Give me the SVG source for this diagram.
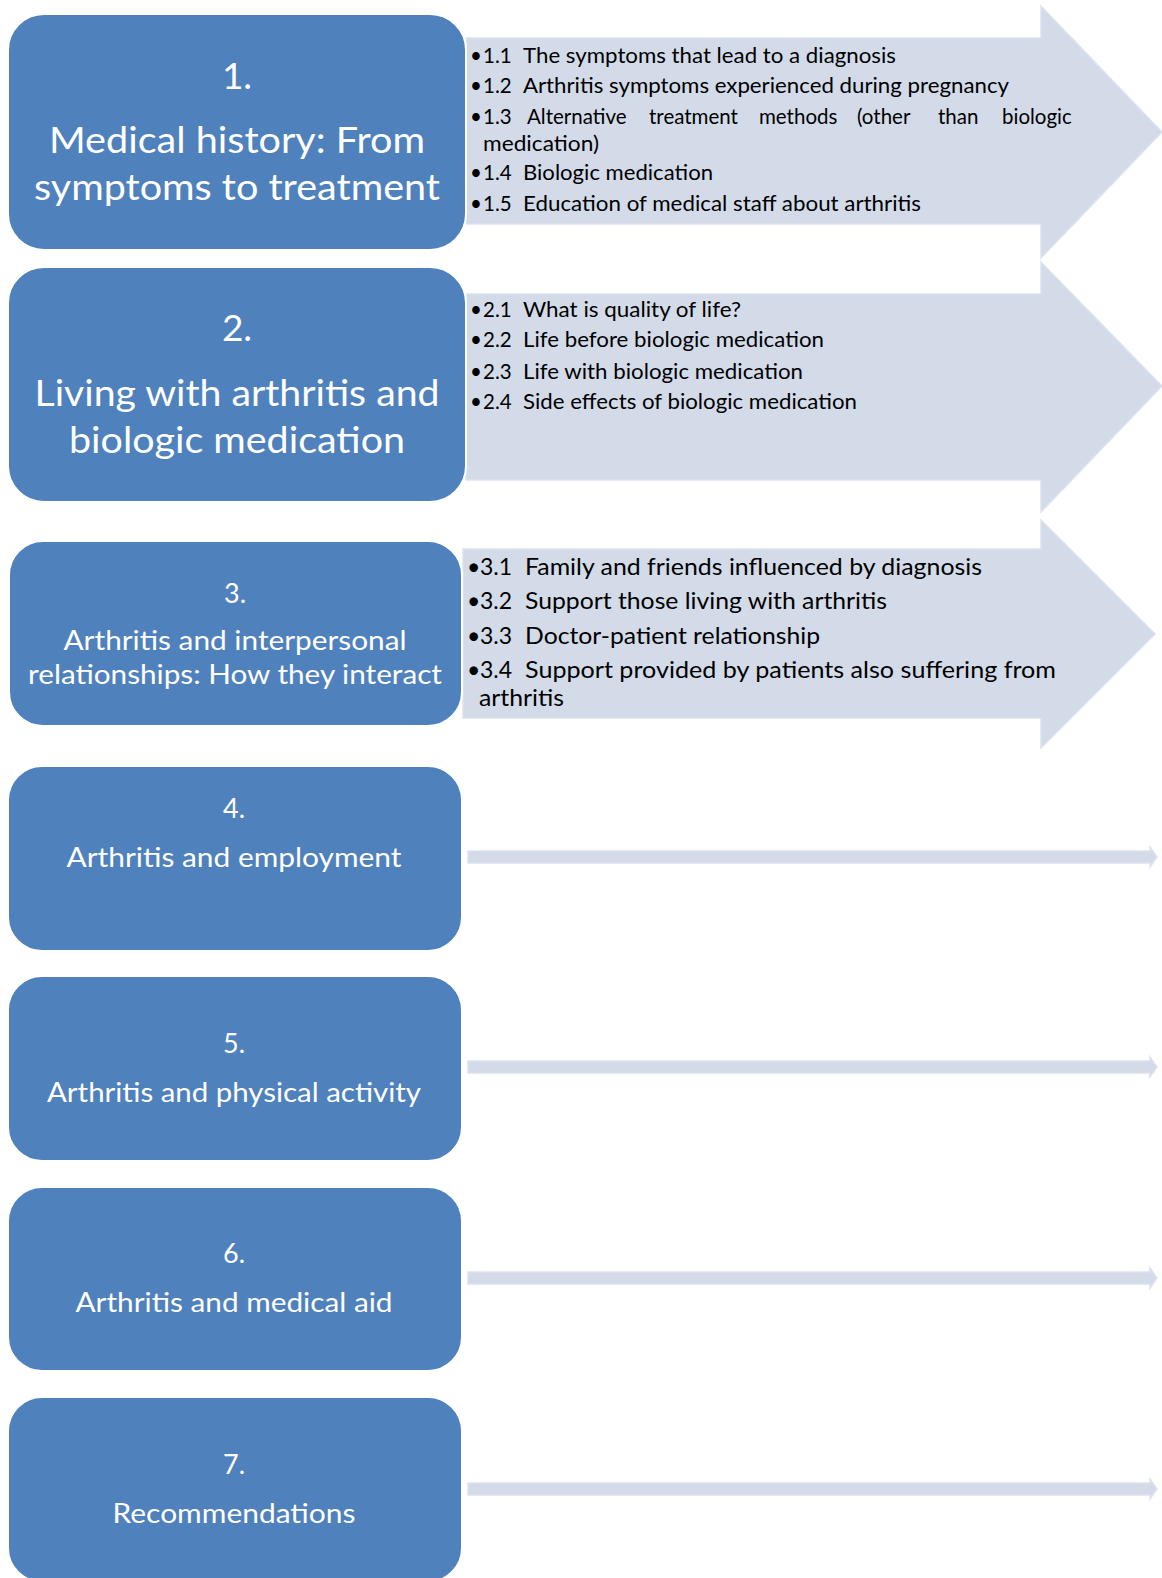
<svg xmlns="http://www.w3.org/2000/svg" width="1162" height="1578" viewBox="0 0 1162 1578">
<style>
.box{fill:#4F81BD;stroke:#FFFFFF;stroke-width:2}
.arr{fill:#D3DBE9;stroke:#DCE2EE;stroke-width:1.5}
.t{font-family:Lato,"Open Sans","Liberation Sans",sans-serif;fill:#FFFFFF;text-anchor:middle}
.b{font-family:Lato,"Open Sans","Liberation Sans",sans-serif;fill:#000000}
</style>
<rect x="0" y="0" width="1162" height="1578" fill="#FFFFFF"/>
<g id="connectors">
<polygon class="arr" points="466,38 1041,38 1041,6 1162,132 1041,258 1041,224 466,224"/>
<polygon class="arr" points="466,294 1041,294 1041,262 1162,386 1041,512 1041,480 466,480"/>
<polygon class="arr" points="463,549 1041,549 1041,520 1155,634 1041,748 1041,718 463,718"/>
<polygon class="arr" points="468,851 1150,851 1150,847 1157,857 1150,867 1150,863 468,863"/>
<polygon class="arr" points="468,1061 1150,1061 1150,1057 1157,1067 1150,1077 1150,1073 468,1073"/>
<polygon class="arr" points="468,1272 1150,1272 1150,1268 1157,1278 1150,1288 1150,1284 468,1284"/>
<polygon class="arr" points="468,1483 1150,1483 1150,1479 1157,1489 1150,1499 1150,1495 468,1495"/>
</g>
<g id="list1" font-size="20.5">
<text class="b" y="63"><tspan x="470">•</tspan><tspan x="483">1.1</tspan><tspan x="523" textLength="373" lengthAdjust="spacingAndGlyphs">The symptoms that lead to a diagnosis</tspan></text>
<text class="b" y="93"><tspan x="470">•</tspan><tspan x="483">1.2</tspan><tspan x="523" textLength="486" lengthAdjust="spacingAndGlyphs">Arthritis symptoms experienced during pregnancy</tspan></text>
<text class="b" y="124"><tspan x="470">•</tspan><tspan x="483">1.3</tspan><tspan x="527">Alternative</tspan><tspan x="649">treatment</tspan><tspan x="759">methods</tspan><tspan x="857">(other</tspan><tspan x="938">than</tspan><tspan x="1002">biologic</tspan></text>
<text class="b" x="483" y="151" textLength="116" lengthAdjust="spacingAndGlyphs">medication)</text>
<text class="b" y="180"><tspan x="470">•</tspan><tspan x="483">1.4</tspan><tspan x="523" textLength="190" lengthAdjust="spacingAndGlyphs">Biologic medication</tspan></text>
<text class="b" y="211"><tspan x="470">•</tspan><tspan x="483">1.5</tspan><tspan x="523" textLength="398" lengthAdjust="spacingAndGlyphs">Education of medical staff about arthritis</tspan></text>
</g>
<g id="list2" font-size="20.5">
<text class="b" y="317"><tspan x="470">•</tspan><tspan x="483">2.1</tspan><tspan x="523" textLength="218" lengthAdjust="spacingAndGlyphs">What is quality of life?</tspan></text>
<text class="b" y="347"><tspan x="470">•</tspan><tspan x="483">2.2</tspan><tspan x="523" textLength="301" lengthAdjust="spacingAndGlyphs">Life before biologic medication</tspan></text>
<text class="b" y="379"><tspan x="470">•</tspan><tspan x="483">2.3</tspan><tspan x="523" textLength="280" lengthAdjust="spacingAndGlyphs">Life with biologic medication</tspan></text>
<text class="b" y="409"><tspan x="470">•</tspan><tspan x="483">2.4</tspan><tspan x="523" textLength="334" lengthAdjust="spacingAndGlyphs">Side effects of biologic medication</tspan></text>
</g>
<g id="list3" font-size="23">
<text class="b" y="575"><tspan x="467">•</tspan><tspan x="480">3.1</tspan><tspan x="525" textLength="457" lengthAdjust="spacingAndGlyphs">Family and friends influenced by diagnosis</tspan></text>
<text class="b" y="609"><tspan x="467">•</tspan><tspan x="480">3.2</tspan><tspan x="525" textLength="362" lengthAdjust="spacingAndGlyphs">Support those living with arthritis</tspan></text>
<text class="b" y="644"><tspan x="467">•</tspan><tspan x="480">3.3</tspan><tspan x="525" textLength="295" lengthAdjust="spacingAndGlyphs">Doctor-patient relationship</tspan></text>
<text class="b" y="678"><tspan x="467">•</tspan><tspan x="480">3.4</tspan><tspan x="525" textLength="531" lengthAdjust="spacingAndGlyphs">Support provided by patients  also suffering from</tspan></text>
<text class="b" x="479" y="706" textLength="85" lengthAdjust="spacingAndGlyphs">arthritis</text>
</g>
<g id="node1">
<rect class="box" x="8" y="14" width="458" height="236" rx="36"/>
<text class="t" x="237" y="89" font-size="37">1.</text>
<text class="t" x="237" y="153" font-size="37" textLength="376" lengthAdjust="spacingAndGlyphs">Medical history: From</text>
<text class="t" x="237" y="200" font-size="37" textLength="406" lengthAdjust="spacingAndGlyphs">symptoms to treatment</text>
</g>
<g id="node2">
<rect class="box" x="8" y="267" width="458" height="235" rx="36"/>
<text class="t" x="237" y="341" font-size="37">2.</text>
<text class="t" x="237" y="406" font-size="37" textLength="405" lengthAdjust="spacingAndGlyphs">Living with arthritis and</text>
<text class="t" x="237" y="453" font-size="37" textLength="336" lengthAdjust="spacingAndGlyphs">biologic medication</text>
</g>
<g id="node3">
<rect class="box" x="9" y="541" width="453" height="185" rx="34"/>
<text class="t" x="235" y="603" font-size="27">3.</text>
<text class="t" x="235" y="650" font-size="27" textLength="343" lengthAdjust="spacingAndGlyphs">Arthritis and interpersonal</text>
<text class="t" x="235" y="684" font-size="27" textLength="414" lengthAdjust="spacingAndGlyphs">relationships: How they interact</text>
</g>
<g id="node4">
<rect class="box" x="8" y="766" width="454" height="185" rx="34"/>
<text class="t" x="234" y="818" font-size="27">4.</text>
<text class="t" x="234" y="867" font-size="27" textLength="335" lengthAdjust="spacingAndGlyphs">Arthritis and employment</text>
</g>
<g id="node5">
<rect class="box" x="8" y="976" width="454" height="185" rx="34"/>
<text class="t" x="234" y="1053" font-size="27">5.</text>
<text class="t" x="234" y="1102" font-size="27" textLength="374" lengthAdjust="spacingAndGlyphs">Arthritis and physical activity</text>
</g>
<g id="node6">
<rect class="box" x="8" y="1187" width="454" height="184" rx="34"/>
<text class="t" x="234" y="1263" font-size="27">6.</text>
<text class="t" x="234" y="1312" font-size="27" textLength="317" lengthAdjust="spacingAndGlyphs">Arthritis and medical aid</text>
</g>
<g id="node7">
<rect class="box" x="8" y="1397" width="454" height="185" rx="34"/>
<text class="t" x="234" y="1474" font-size="27">7.</text>
<text class="t" x="234" y="1523" font-size="27" textLength="243" lengthAdjust="spacingAndGlyphs">Recommendations</text>
</g>
</svg>
